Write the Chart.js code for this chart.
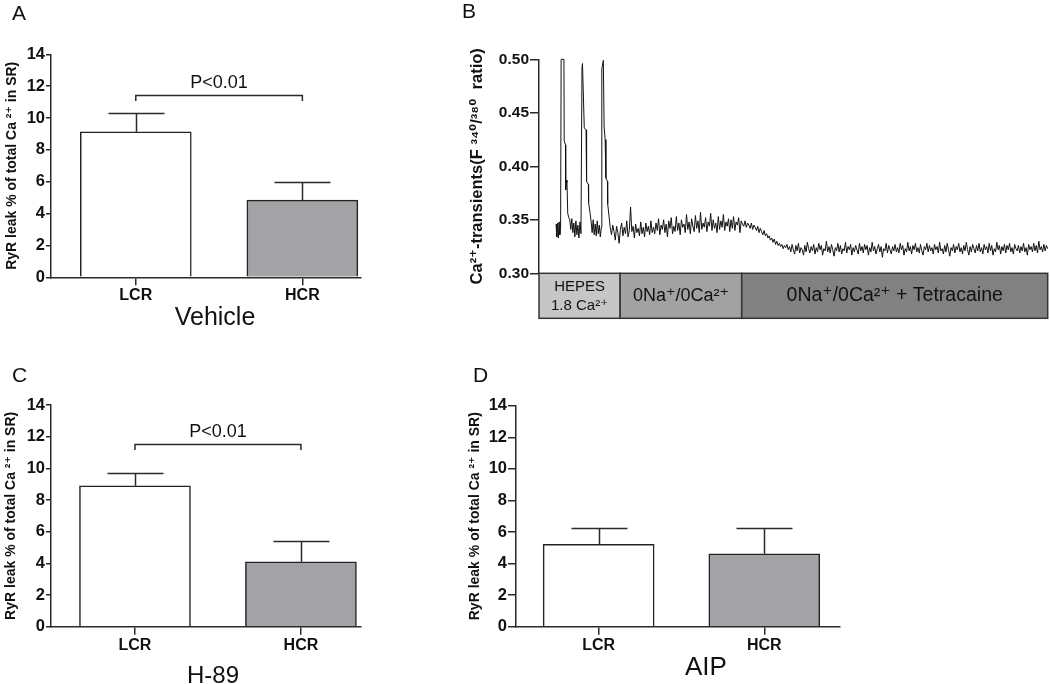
<!DOCTYPE html>
<html>
<head>
<meta charset="utf-8">
<script src="https://cdn.jsdelivr.net/npm/chart.js@4.4.1/dist/chart.umd.min.js"></script>
<style>
  html,body{margin:0;padding:0;background:#fff;}
  body{width:1050px;height:684px;position:relative;overflow:hidden;font-family:"Liberation Sans",Arial,"DejaVu Sans",sans-serif;color:#111;}
  canvas{position:absolute;}
  .lbl{position:absolute;white-space:nowrap;line-height:1;}
</style>
</head>
<body>
<canvas id="cA" width="380" height="340" style="left:0px;top:0px;"></canvas>
<canvas id="cB" width="610" height="340" style="left:440px;top:0px;"></canvas>
<canvas id="cC" width="380" height="344" style="left:0px;top:340px;"></canvas>
<canvas id="cD" width="420" height="344" style="left:440px;top:340px;"></canvas>
<script>
// ---------------- DATA ----------------
const categories = ['LCR', 'HCR'];
const yTicksLeak = [0, 2, 4, 6, 8, 10, 12, 14];
const yTitleLeak = 'RyR leak % of total Ca \u00B2\u207A in SR)';

const vehicleMeans = [9.14, 4.85];
const vehicleSEM   = [1.17, 1.11];
const vehicleBracket = [11.45, 11.07];   // bracket level, end level

const h89Means = [8.90, 4.10];
const h89SEM   = [0.83, 1.31];
const h89Bracket = [11.56, 11.16];

const aipMeans = [5.22, 4.62];
const aipSEM   = [1.05, 1.65];

const pLabel = 'P<0.01';
const conditionLabels = ['Vehicle', 'H-89', 'AIP'];
const panelLetters = ['A', 'B', 'C', 'D'];

// Panel B: Ca2+ transient trace (time in s, F340/380 ratio)
const yTicksB = [0.30, 0.35, 0.40, 0.45, 0.50];
const yTitleB = 'Ca\u00B2\u207A-transients(F \u00B3\u2074\u2070/\u00B3\u2078\u2070  ratio)';
const spikeTimes  = [6.7, 7.0, 7.3, 7.6, 7.9, 8.2, 8.5, 8.7, 9.8, 9.9, 10.4, 10.5, 10.8, 11.0, 11.3,
  11.7, 12.1, 12.5, 12.9, 13.3, 13.7, 14.1, 14.5, 14.9, 15.3, 15.7, 16.1, 16.5, 16.9, 17.1, 17.8, 18.5,
  18.7, 19.4, 19.5, 20.1, 20.5, 20.9, 21.3, 21.7, 22.1, 22.5, 22.9, 23.3, 23.7, 24.1, 24.5, 24.7, 25.3,
  25.6, 26.0, 26.3, 26.9, 27.0, 27.6];
const spikeValues = [0.346, 0.334, 0.347, 0.333, 0.348, 0.336, 0.344, 0.500, 0.500, 0.424, 0.420, 0.378, 0.387, 0.385, 0.356,
  0.352, 0.350, 0.341, 0.351, 0.338, 0.347, 0.334, 0.349, 0.336, 0.345, 0.333, 0.348, 0.337, 0.492, 0.496, 0.436, 0.434,
  0.386, 0.383, 0.366, 0.356, 0.348, 0.338, 0.350, 0.336, 0.346, 0.335, 0.349, 0.337, 0.345, 0.334, 0.343, 0.491, 0.499,
  0.437, 0.425, 0.389, 0.386, 0.365, 0.352];
const baseStartTime = 28;   // s
const baseStep = 0.5;       // s between samples
const baseValues = [
  // 28.0 - 45.0 s
  0.343,0.336,0.345,0.339,0.331,0.344,0.338,0.328,0.341,0.347,
  0.335,0.343,0.337,0.349,0.334,0.340,0.362,0.339,0.344,0.333,
  0.346,0.338,0.342,0.335,0.348,0.337,0.343,0.334,0.347,0.339,
  0.344,0.336,0.349,0.338,0.343,
  // 45.5 - 80.0 s
  0.337,0.347,0.340,0.351,0.336,0.345,0.341,0.350,0.338,0.346,
  0.334,0.349,0.342,0.352,0.337,0.344,0.339,0.353,0.340,0.347,
  0.336,0.350,0.343,0.346,0.338,0.355,0.341,0.348,0.337,0.351,
  0.344,0.339,0.354,0.342,0.349,0.338,0.357,0.341,0.347,0.343,
  0.352,0.339,0.348,0.344,0.356,0.340,0.350,0.342,0.347,0.338,
  0.353,0.341,0.349,0.343,0.355,0.340,0.348,0.344,0.351,0.339,
  0.350,0.342,0.353,0.340,0.348,0.345,0.352,0.338,0.349,0.346,
  // 80.5 - 98.0 s (decline after tetracaine)
  0.344,0.349,0.343,0.347,0.345,0.342,0.347,0.341,0.345,0.343,
  0.340,0.344,0.338,0.342,0.339,0.336,0.340,0.335,0.337,0.333,
  0.335,0.331,0.333,0.329,0.332,0.327,0.330,0.326,0.328,0.325,
  0.327,0.323,0.326,0.324,0.327,0.322,
  // 98.5 - 200.0 s
  0.325,0.320,0.327,0.322,0.318,0.326,0.321,0.328,0.319,0.324,
  0.322,0.317,0.326,0.320,0.329,0.323,0.319,0.325,0.321,0.327,
  0.318,0.324,0.320,0.328,0.322,0.326,0.317,0.323,0.321,0.330,
  0.320,0.325,0.319,0.327,0.322,0.316,0.324,0.321,0.328,0.320,
  0.326,0.318,0.323,0.321,0.329,0.319,0.325,0.322,0.327,0.317,
  0.324,0.320,0.326,0.322,0.318,0.328,0.321,0.325,0.319,0.327,
  0.322,0.326,0.317,0.324,0.320,0.329,0.321,0.325,0.318,0.323,
  0.327,0.320,0.325,0.315,0.323,0.321,0.328,0.319,0.326,0.322,
  0.318,0.325,0.321,0.327,0.320,0.324,0.319,0.328,0.322,0.326,
  0.317,0.323,0.320,0.329,0.321,0.325,0.318,0.326,0.322,0.328,
  0.320,0.324,0.319,0.327,0.321,0.317,0.325,0.322,0.328,0.320,
  0.326,0.321,0.324,0.318,0.327,0.322,0.325,0.319,0.329,0.321,
  0.323,0.318,0.326,0.320,0.328,0.322,0.316,0.324,0.321,0.327,
  0.319,0.325,0.322,0.328,0.320,0.324,0.318,0.326,0.321,0.329,
  0.322,0.317,0.325,0.320,0.327,0.323,0.319,0.326,0.321,0.328,
  0.320,0.324,0.318,0.327,0.322,0.325,0.319,0.328,0.321,0.326,
  0.317,0.323,0.320,0.329,0.322,0.326,0.318,0.325,0.321,0.327,
  0.319,0.326,0.322,0.328,0.320,0.324,0.318,0.327,0.323,0.321,
  0.326,0.319,0.325,0.321,0.328,0.320,0.324,0.317,0.327,0.322,
  0.325,0.320,0.328,0.321,0.326,0.319,0.330,0.322,0.325,0.320,
  0.327,0.321,0.326,0.323];
const phaseLabels = [['HEPES', '1.8 Ca\u00B2\u207A'], ['0Na\u207A/0Ca\u00B2\u207A'], ['0Na\u207A/0Ca\u00B2\u207A + Tetracaine']];
const phaseBounds = [0, 31.9, 79.7, 200];
const phaseColors = ['#c6c6c6', '#a2a2a2', '#818181'];

// ---------------- RENDER ----------------
const FONT = '"Liberation Sans", Arial, "DejaVu Sans", sans-serif';
Chart.defaults.font.family = FONT;
const AXIS = '#2a2a2a';

const errPlugin = {
  id: 'errbars',
  afterDatasetsDraw(chart, args, o) {
    if (!o || !o.means) return;
    const {ctx} = chart;
    const x = chart.scales.x, y = chart.scales.y;
    ctx.save();
    ctx.strokeStyle = AXIS; ctx.lineWidth = 1.5; ctx.lineCap = 'butt';
    o.means.forEach((m, i) => {
      const px = Math.round(x.getPixelForValue(i)) + 0.5;
      const base = y.getPixelForValue(m);
      const top = Math.round(y.getPixelForValue(m + o.sem[i])) + 0.5;
      ctx.beginPath();
      ctx.moveTo(px, base); ctx.lineTo(px, top);
      ctx.moveTo(px - o.capHalf, top); ctx.lineTo(px + o.capHalf, top);
      ctx.stroke();
    });
    if (o.bracket) {
      const x0 = x.getPixelForValue(0), x1 = x.getPixelForValue(1);
      const yb = Math.round(y.getPixelForValue(o.bracket[0])) + 0.5;
      const ye = y.getPixelForValue(o.bracket[1]);
      ctx.beginPath();
      ctx.moveTo(x0, ye); ctx.lineTo(x0, yb); ctx.lineTo(x1, yb); ctx.lineTo(x1, ye);
      ctx.stroke();
      ctx.fillStyle = '#111';
      ctx.font = '18px ' + FONT;
      ctx.textAlign = 'center'; ctx.textBaseline = 'alphabetic';
      ctx.fillText(o.label, (x0 + x1) / 2, yb - 8);
    }
    ctx.restore();
  }
};

function barChart(id, means, sem, bracket, g) {
  return new Chart(document.getElementById(id), {
    type: 'bar',
    data: { datasets: [{
      data: means.map((m, i) => ({x: i, y: m})),
      backgroundColor: ['#ffffff', '#a3a3a7'],
      borderColor: '#222', borderWidth: 1.5, barThickness: 111, borderSkipped: 'start'
    }]},
    plugins: [errPlugin],
    options: {
      responsive: false, animation: false, events: [],
      layout: { padding: { left: 0, top: g.top, right: g.right, bottom: 0 } },
      plugins: { legend: {display: false}, tooltip: {enabled: false},
        errbars: { means: means, sem: sem, bracket: bracket, label: pLabel, capHalf: 28 } },
      scales: {
        x: { type: 'linear', min: g.xmin, max: g.xmax, offset: false,
          afterBuildTicks: s => { s.ticks = categories.map((c, i) => ({value: i})); },
          afterFit: s => { s.height = g.xh; },
          ticks: { callback: v => categories[v], font: {size: 16, weight: 'bold'}, color: '#111',
                   padding: 1, maxRotation: 0, autoSkip: false },
          grid: { drawOnChartArea: false, drawTicks: true, tickLength: 8, color: AXIS, lineWidth: 1.5, offset: false },
          border: { display: true, color: AXIS, width: 1.5 } },
        y: { min: 0, max: 14,
          afterBuildTicks: s => { s.ticks = yTicksLeak.map(v => ({value: v})); },
          afterFit: s => { s.width = g.yw; },
          ticks: { font: {size: 16.5, weight: 'bold'}, color: '#111', padding: 1 },
          grid: { drawOnChartArea: false, drawTicks: true, tickLength: g.tl, color: AXIS, lineWidth: 1.5 },
          border: { display: true, color: AXIS, width: 1.5 },
          title: { display: true, text: yTitleLeak, color: '#111', font: {size: 14, weight: 'bold'},
                   padding: {top: g.tp, bottom: 0} } }
      }
    }
  });
}

barChart('cA', vehicleMeans, vehicleSEM, vehicleBracket,
  {top: 54.3, right: 19, xh: 62.7, yw: 51, tl: 5, tp: 3.6, xmin: -0.509, xmax: 1.352});
barChart('cC', h89Means, h89SEM, h89Bracket,
  {top: 65, right: 19, xh: 57.3, yw: 51, tl: 5, tp: 2.8, xmin: -0.506, xmax: 1.362});
barChart('cD', aipMeans, aipSEM, null,
  {top: 65.7, right: 20, xh: 57.3, yw: 76, tl: 8, tp: 26.6, xmin: -0.499, xmax: 1.457});

// Panel B
const traceData = spikeTimes.map((t, i) => ({x: t, y: spikeValues[i]}))
  .concat(baseValues.map((v, i) => ({x: baseStartTime + i * baseStep, y: v})));

const phasePlugin = {
  id: 'phases',
  afterDraw(chart) {
    const {ctx, chartArea} = chart;
    const x = chart.scales.x;
    const top = chartArea.bottom, h = 45;
    ctx.save();
    ctx.lineWidth = 1.5; ctx.strokeStyle = '#333';
    for (let i = 0; i < phaseLabels.length; i++) {
      const l = x.getPixelForValue(phaseBounds[i]), r = x.getPixelForValue(phaseBounds[i + 1]);
      ctx.fillStyle = phaseColors[i];
      ctx.fillRect(l, top, r - l, h);
      ctx.strokeRect(l, top, r - l, h);
      ctx.fillStyle = '#111';
      ctx.textAlign = 'center'; ctx.textBaseline = 'middle';
      const lines = phaseLabels[i];
      const size = lines.length > 1 ? 15 : (i === 1 ? 18 : 19.5);
      ctx.font = size + 'px ' + FONT;
      const cx = (l + r) / 2, cy = top + h / 2;
      if (lines.length > 1) {
        ctx.fillText(lines[0], cx, cy - 9);
        ctx.fillText(lines[1], cx, cy + 10);
      } else {
        ctx.fillText(lines[0], cx, cy);
      }
    }
    ctx.restore();
  }
};

new Chart(document.getElementById('cB'), {
  type: 'line',
  data: { datasets: [{ data: traceData, borderColor: '#111', borderWidth: 1, pointRadius: 0,
                       tension: 0, fill: false, clip: 3 }] },
  plugins: [phasePlugin],
  options: {
    responsive: false, animation: false, events: [],
    layout: { padding: { left: 0, top: 59.3, right: 2.3, bottom: 66.7 } },
    plugins: { legend: {display: false}, tooltip: {enabled: false} },
    scales: {
      x: { type: 'linear', min: 0, max: 200, display: false },
      y: { min: 0.30, max: 0.50,
        afterBuildTicks: s => { s.ticks = yTicksB.map(v => ({value: v})); },
        afterFit: s => { s.width = 99; },
        ticks: { callback: v => v.toFixed(2), font: {size: 15.5, weight: 'bold'}, color: '#111', padding: 1 },
        grid: { drawOnChartArea: false, drawTicks: true, tickLength: 9, color: AXIS, lineWidth: 1.5 },
        border: { display: true, color: AXIS, width: 1.5 },
        title: { display: true, text: yTitleB, color: '#111', font: {size: 16.5, weight: 'bold'},
                 padding: {top: 28, bottom: 0} } }
    }
  }
});

// Text labels (panel letters, condition names)
function addLabel(text, left, baseline, size, center) {
  const d = document.createElement('div');
  d.className = 'lbl';
  d.textContent = text;
  d.style.fontSize = size + 'px';
  d.style.top = (baseline - 0.8465 * size) + 'px';
  if (center) { d.style.left = (left - 100) + 'px'; d.style.width = '200px'; d.style.textAlign = 'center'; }
  else d.style.left = left + 'px';
  document.body.appendChild(d);
}
addLabel(panelLetters[0], 12, 20, 21, false);
addLabel(panelLetters[1], 462, 18, 21, false);
addLabel(panelLetters[2], 12, 382, 21, false);
addLabel(panelLetters[3], 473, 382, 21, false);
addLabel(conditionLabels[0], 215, 325, 25, true);
addLabel(conditionLabels[1], 213, 683, 24, true);
addLabel(conditionLabels[2], 706, 675, 26, true);
</script>
</body>
</html>
